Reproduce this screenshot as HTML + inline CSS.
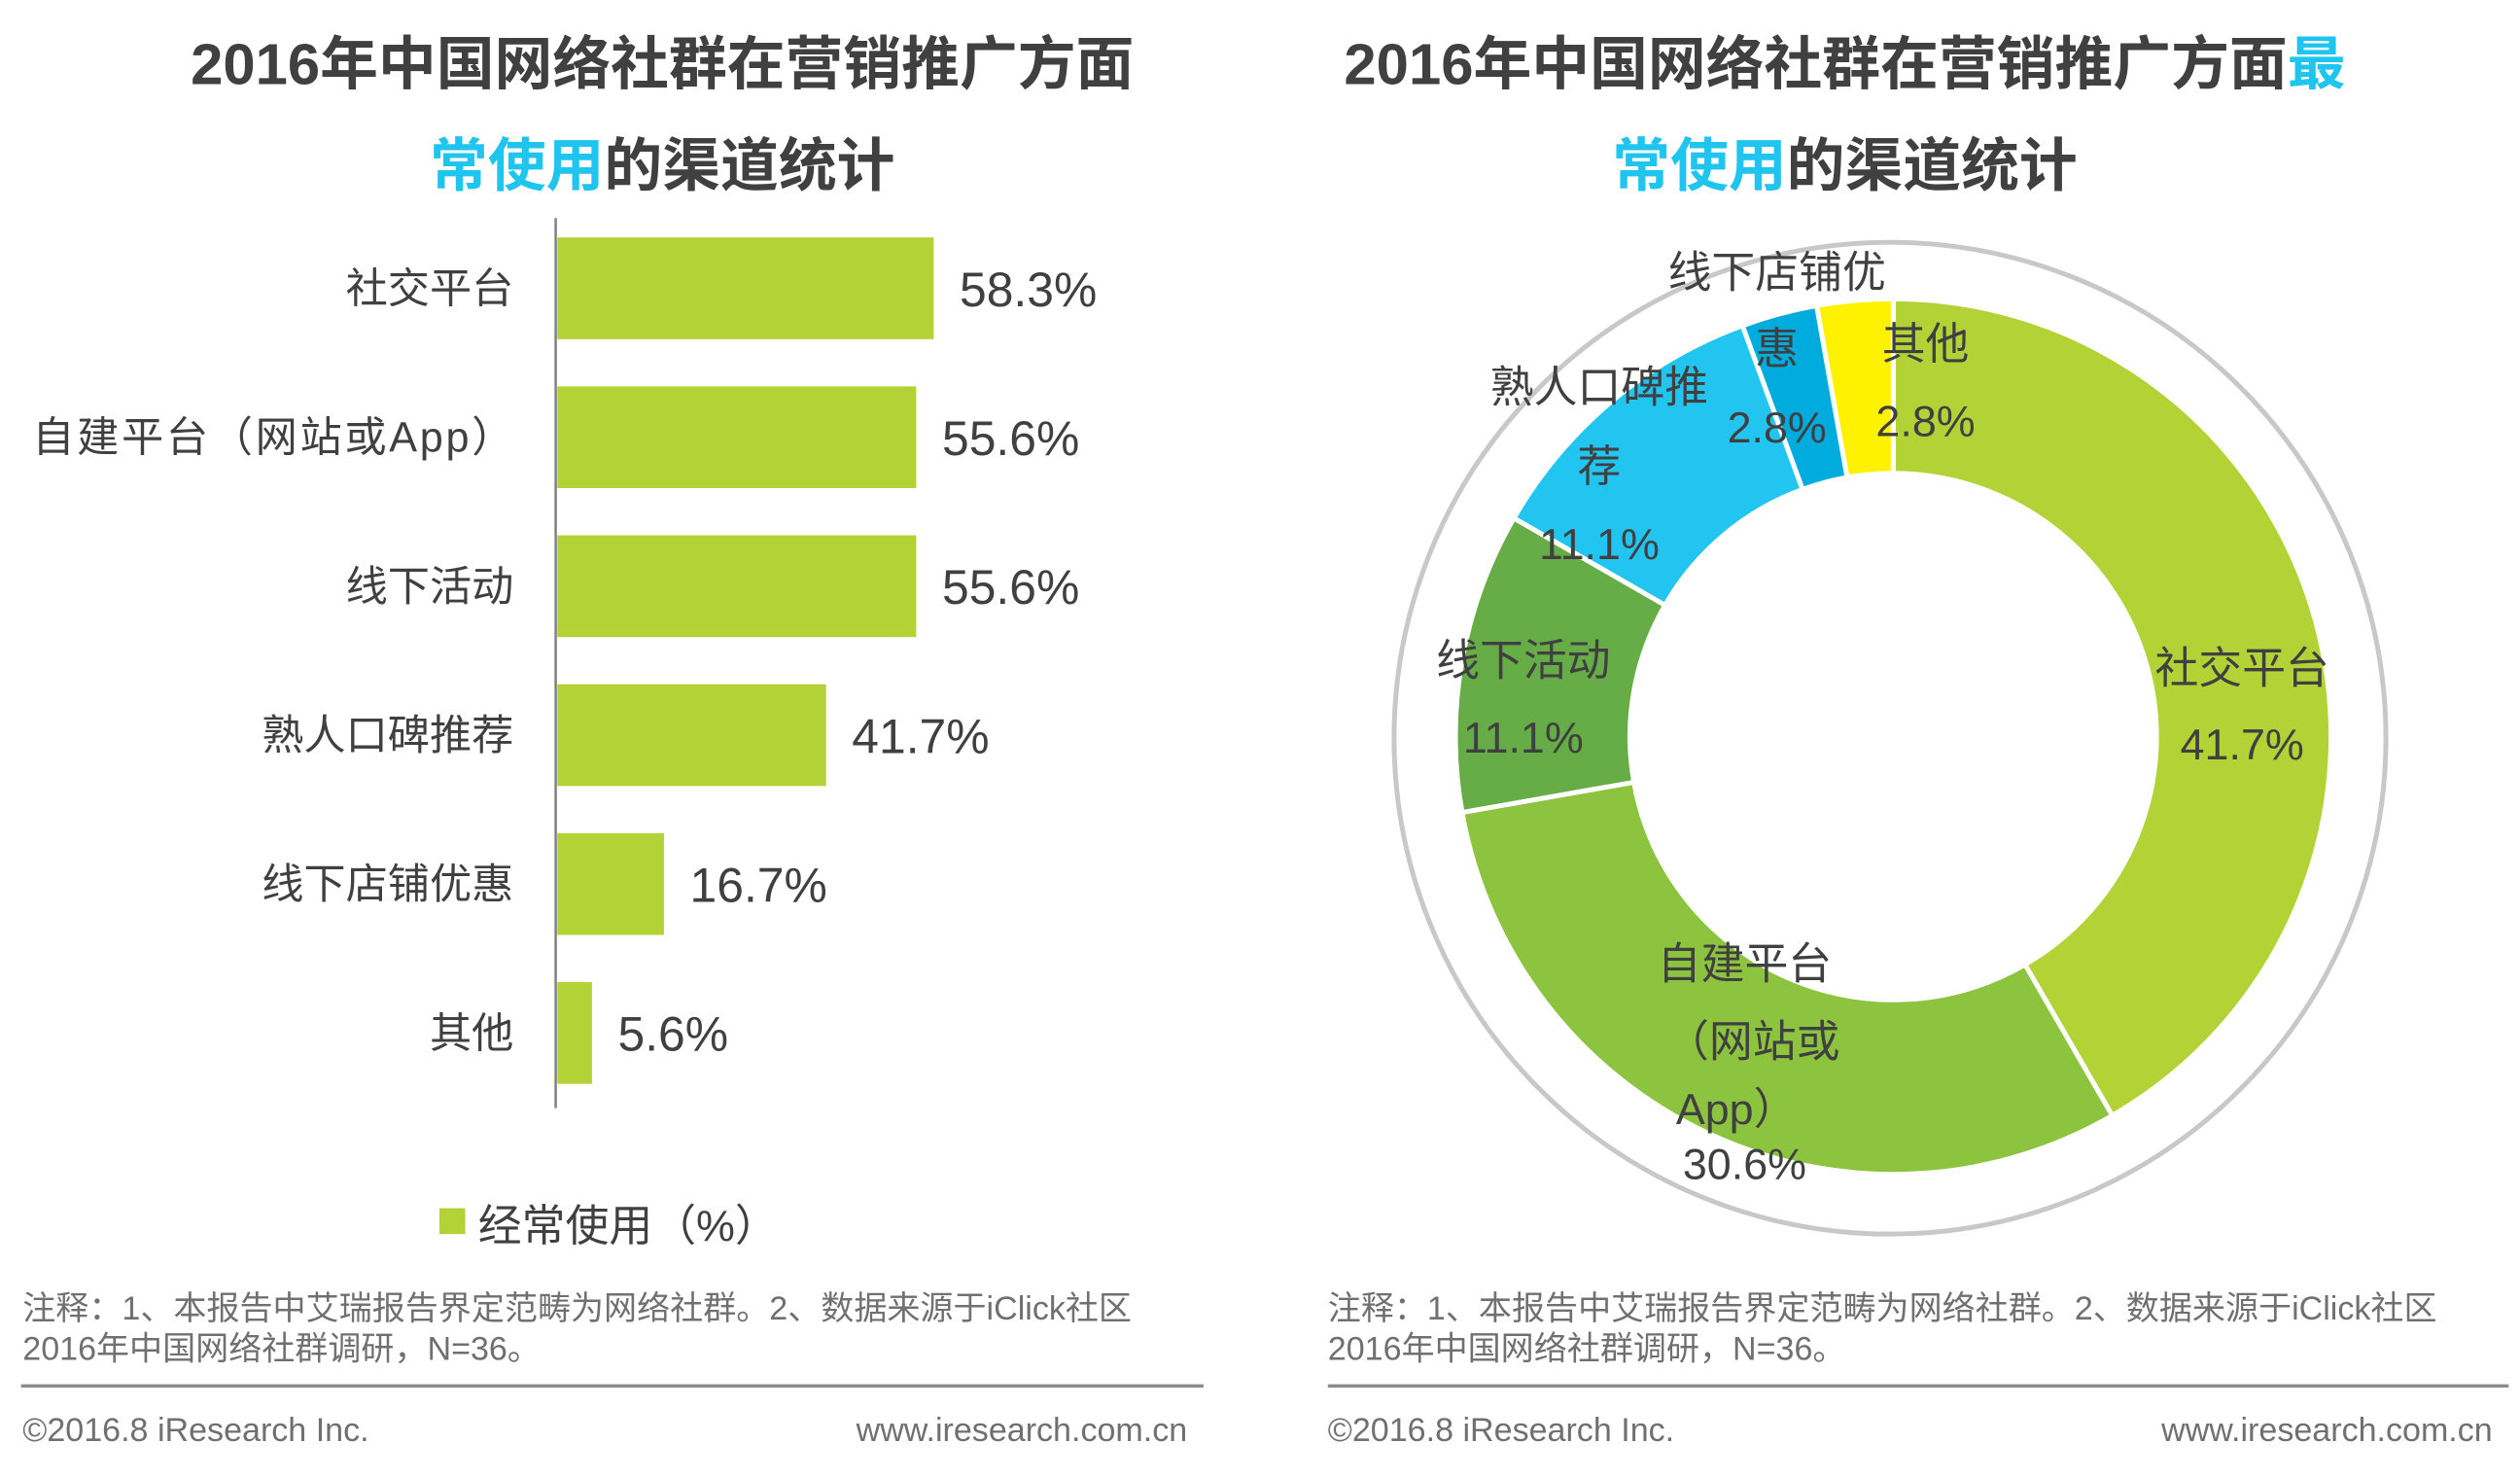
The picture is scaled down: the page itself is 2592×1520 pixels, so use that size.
<!DOCTYPE html>
<html><head><meta charset="utf-8">
<style>
html,body{margin:0;padding:0;background:#fff;}
svg{display:block;}
text{font-family:"Liberation Sans","Noto Sans CJK SC",sans-serif;}
</style></head>
<body>
<svg id="chart" width="2592" height="1520" viewBox="0 0 1560 915" preserveAspectRatio="none" xmlns="http://www.w3.org/2000/svg">
  <g font-weight="700" font-size="36" fill="#404040" text-anchor="middle">
    <text x="410" y="52">2016年中国网络社群在营销推广方面</text>
    <text x="410" y="115"><tspan fill="#1fc5ef">常使用</tspan>的渠道统计</text>
  </g>
  <g font-weight="700" font-size="36" fill="#404040" text-anchor="middle">
    <text x="1142" y="52">2016年中国网络社群在营销推广方面<tspan fill="#1fc5ef">最</tspan></text>
    <text x="1142" y="115"><tspan fill="#1fc5ef">常使用</tspan>的渠道统计</text>
  </g>
  <line x1="344" y1="135" x2="344" y2="686" stroke="#808080" stroke-width="1.5"/>
  <g id="bars"></g>
  <g>
    <rect x="272" y="748" width="16" height="16" fill="#b2d235"/>
    <text x="296" y="768" font-size="27" fill="#404040">经常使用（%）</text>
  </g>
  <circle cx="1170" cy="457" r="307" fill="none" stroke="#c8c8c8" stroke-width="3"/>
  <g id="donut"></g>
  <g id="donut-labels" font-size="27" fill="#404040" text-anchor="middle"></g>

  <g font-size="20.5" fill="#707070">
    <text x="14" y="817">注释：1、本报告中艾瑞报告界定范畴为网络社群。2、数据来源于iClick社区</text>
    <text x="14" y="842">2016年中国网络社群调研，N=36。</text>
  </g>
  <line x1="13" y1="858" x2="745" y2="858" stroke="#8a8a8a" stroke-width="2"/>
  <text x="14" y="892" font-size="20.5" fill="#707070">©2016.8 iResearch Inc.</text>
  <text x="735" y="892" font-size="20.5" fill="#707070" text-anchor="end">www.iresearch.com.cn</text>

  <g font-size="20.5" fill="#707070">
    <text x="822" y="817">注释：1、本报告中艾瑞报告界定范畴为网络社群。2、数据来源于iClick社区</text>
    <text x="822" y="842">2016年中国网络社群调研，N=36。</text>
  </g>
  <line x1="822" y1="858" x2="1553" y2="858" stroke="#8a8a8a" stroke-width="2"/>
  <text x="822" y="892" font-size="20.5" fill="#707070">©2016.8 iResearch Inc.</text>
  <text x="1543" y="892" font-size="20.5" fill="#707070" text-anchor="end">www.iresearch.com.cn</text>
</svg>
<script>
const barCategories = ["社交平台","自建平台（网站或App）","线下活动","熟人口碑推荐","线下店铺优惠","其他"];
const barValues = [58.3, 55.6, 55.6, 41.7, 16.7, 5.6];
const barLabels = ["58.3%","55.6%","55.6%","41.7%","16.7%","5.6%"];

const donutCategories = ["社交平台","自建平台（网站或App）","线下活动","熟人口碑推荐","线下店铺优惠","其他"];
const donutValues = [41.7, 30.6, 11.1, 11.1, 2.8, 2.8];
const donutValueLabels = ["41.7%","30.6%","11.1%","11.1%","2.8%","2.8%"];

const NS = "http://www.w3.org/2000/svg";
function mk(tag, attrs, parent){ const e=document.createElementNS(NS,tag); for(const k in attrs) e.setAttribute(k,attrs[k]); parent.appendChild(e); return e; }

const xBase = 344, pxPerUnit = 4.014;
function xScale(v){ return xBase + v*pxPerUnit; }
const bandTop = 147, bandStep = 92.2, barH = 63;
function yBand(i){ return bandTop + i*bandStep; }

const bars = document.getElementById('bars');
barValues.forEach((v,i)=>{
  const y = yBand(i);
  const r = mk('rect',{x:xBase+1,y:y,width:xScale(v)-xBase-1,height:barH,fill:'#b2d235'},bars);
  
  
  const t = mk('text',{x:xScale(v)+16,y:y+barH/2+11,'font-size':'30',fill:'#404040'},bars);
  t.textContent = barLabels[i];
  
  
  const c = mk('text',{x:318,y:y+barH/2+9,'font-size':'26',fill:'#404040','text-anchor':'end'},bars);
  c.textContent = barCategories[i];
  if (barCategories[i].length > 8) { c.setAttribute('textLength','298'); c.setAttribute('lengthAdjust','spacing'); }
  
  
});

const cx=1172, cy=456, rO=271, rI=163;
const colors=['#b2d235','#8cc43f','#66ad47','#22c5f0','#00acdd','#fff200'];
const total = donutValues.reduce((a,b)=>a+b,0);
function pt(r,a){ return [cx+r*Math.sin(a), cy-r*Math.cos(a)]; }
const donut=document.getElementById('donut');
let acc=0;
donutValues.forEach((v,i)=>{
  const a0=acc/total*2*Math.PI; acc+=v; const a1=acc/total*2*Math.PI;
  const large=(a1-a0)>Math.PI?1:0;
  const p0=pt(rO,a0),p1=pt(rO,a1),p2=pt(rI,a1),p3=pt(rI,a0);
  const d=`M${p0[0]},${p0[1]} A${rO},${rO} 0 ${large} 1 ${p1[0]},${p1[1]} L${p2[0]},${p2[1]} A${rI},${rI} 0 ${large} 0 ${p3[0]},${p3[1]} Z`;
  const p=mk('path',{d:d,fill:colors[i],stroke:'#fff','stroke-width':'3'},donut);
  
  
});

const labelLines = [
  [["社交平台",1388,423],[donutValueLabels[0],1388,470]],
  [["自建平台",1080,606],["（网站或",1085,654],["App）",1075,696],[donutValueLabels[1],1080,730]],
  [["线下活动",943,418],[donutValueLabels[2],943,466]],
  [["熟人口碑推",990,249],["荐",990,298],[donutValueLabels[3],990,346]],
  [["线下店铺优",1100,178],["惠",1100,225],[donutValueLabels[4],1100,274]],
  [["其他",1192,222],[donutValueLabels[5],1192,270]]
];
const dl=document.getElementById('donut-labels');
labelLines.forEach((lines,i)=>{
  const g=mk('g',{},dl);
  
  
  lines.forEach(l=>{ const t=mk('text',{x:l[1],y:l[2]},g); t.textContent=l[0]; });
});
</script>
</body></html>
